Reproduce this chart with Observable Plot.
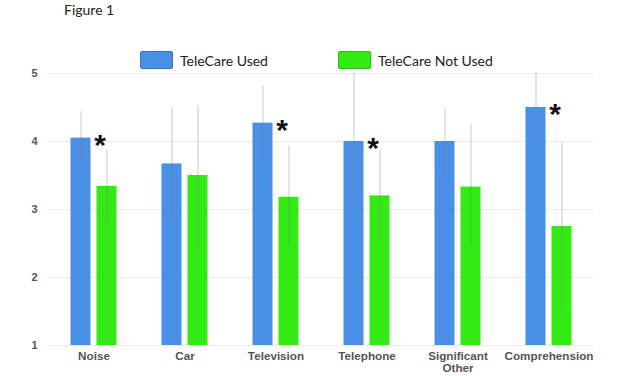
<!DOCTYPE html>
<html>
<head>
<meta charset="utf-8">
<script src="https://cdn.jsdelivr.net/npm/d3@7"></script>
<script src="https://cdn.jsdelivr.net/npm/@observablehq/plot@0.6"></script>
<style>
  html, body { margin: 0; padding: 0; background: #fff; width: 627px; height: 376px; overflow: hidden; }
  #header { position: relative; height: 70px; font-family: Lato, "Open Sans", sans-serif; color: #222; }
  #title { position: absolute; left: 64px; top: 1px; font-size: 14px; }
  .item { position: absolute; top: 51px; display: flex; align-items: center; font-size: 14px; }
  .sw { width: 31px; height: 16px; border-radius: 2px; margin-right: 7px; }
</style>
</head>
<body>
<div id="header">
  <div id="title">Figure 1</div>
  <div class="item" style="left:140px"><div class="sw" id="sw0"></div><span id="lg0"></span></div>
  <div class="item" style="left:338px"><div class="sw" id="sw1"></div><span id="lg1"></span></div>
</div>
<div id="chart"></div>
<script>
const categories = ["Noise", "Car", "Television", "Telephone", "Significant Other", "Comprehension"];
const seriesNames = ["TeleCare Used", "TeleCare Not Used"];
const seriesColors = ["#4a8fe6", "#33ea14"];
const usedMean = [4.05, 3.67, 4.27, 4.00, 4.00, 4.50];
const usedLow = [3.65, 2.84, 3.73, 3.03, 3.51, 3.92];
const usedHigh = [4.44, 4.50, 4.82, 5.00, 4.49, 5.00];
const notUsedMean = [3.34, 3.50, 3.18, 3.20, 3.33, 2.75];
const notUsedLow = [2.79, 2.45, 2.45, 2.54, 2.45, 1.51];
const notUsedHigh = [3.87, 4.53, 3.93, 3.88, 4.25, 3.99];
const significant = ["Noise", "Television", "Telephone", "Comprehension"];
const yTicks = [1, 2, 3, 4, 5];

const rows = [];
categories.forEach((c, i) => {
  rows.push({cat: c, series: seriesNames[0], mean: usedMean[i], low: usedLow[i], high: usedHigh[i]});
  rows.push({cat: c, series: seriesNames[1], mean: notUsedMean[i], low: notUsedLow[i], high: notUsedHigh[i]});
});
const stars = rows.filter(r => r.series === seriesNames[0] && significant.includes(r.cat));

seriesNames.forEach((s, i) => {
  document.getElementById("lg" + i).textContent = s;
  const sw = document.getElementById("sw" + i);
  sw.style.background = seriesColors[i];
  sw.style.border = "1px solid " + d3.color(seriesColors[i]).darker(0.6);
});

const chart = Plot.plot({
  width: 627,
  height: 306,
  marginTop: 3,
  marginBottom: 31,
  marginLeft: 47.5,
  marginRight: 33.5,
  style: {background: "white", overflow: "visible", fontFamily: "'Liberation Sans', Arial, sans-serif"},
  fx: {domain: categories, padding: 0, label: null},
  x: {domain: seriesNames, paddingInner: 0.2308, paddingOuter: 0.865, axis: null},
  y: {domain: [1, 5], axis: null},
  color: {domain: seriesNames, range: seriesColors},
  marks: [
    Plot.ruleY(yTicks, {stroke: "#ececec"}),
    Plot.barY(rows, {fx: "cat", x: "series", y1: 1, y2: "mean", fill: "series"}),
    Plot.ruleX(rows, {fx: "cat", x: "series", y1: "low", y2: "high", stroke: "#777", strokeOpacity: 0.4}),
    Plot.text(stars, {fx: "cat", x: "series", y: "mean", text: () => "*", dx: 19, dy: 7, fontSize: 30, fontWeight: "bold", fill: "#111"}),
    Plot.axisY({ticks: yTicks, tickFormat: d => String(d), tickSize: 0, tickPadding: 11, fontSize: 11, fontWeight: "bold", color: "#555", label: null}),
    Plot.axisFx({anchor: "bottom", tickSize: 0, tickPadding: 6, fontSize: 11.7, fontWeight: "bold", color: "#555", label: null, lineHeight: 1.0,
      tickFormat: d => d === "Significant Other" ? "Significant\nOther" : d})
  ]
});
document.getElementById("chart").append(chart);
</script>
</body>
</html>
